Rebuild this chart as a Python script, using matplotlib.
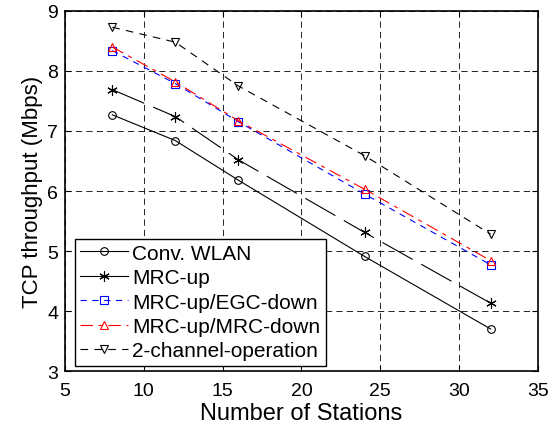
import matplotlib
matplotlib.use("Agg")
import matplotlib.pyplot as plt
from matplotlib.lines import Line2D

plt.rcParams["font.family"] = ["Liberation Sans", "DejaVu Sans"]
plt.rcParams["lines.scale_dashes"] = False

stations = [8, 12, 16, 24, 32]
conv_wlan = [7.27, 6.84, 6.18, 4.91, 3.70]
mrc_up = [7.69, 7.24, 6.52, 5.31, 4.13]
mrc_egc = [8.34, 7.79, 7.155, 5.95, 4.77]
mrc_mrc = [8.40, 7.82, 7.17, 6.03, 4.84]
two_channel = [8.73, 8.48, 7.75, 6.59, 5.28]

labels = ["Conv. WLAN", "MRC-up", "MRC-up/EGC-down", "MRC-up/MRC-down",
          "2-channel-operation"]

fig = plt.figure(figsize=(5.58, 4.27), dpi=100)
ax = fig.add_axes([0.1165, 0.1288, 0.8475, 0.8431])

lw = 0.8
ms = 5.5
star = (6, 2, 0)  # matlab-like asterisk
ax.plot(stations, conv_wlan, color="black", lw=lw, marker="o", ms=ms,
        mfc="none", mew=0.8)
ax.plot(stations, mrc_up, color="black", lw=lw, marker=star, ms=ms + 2,
        mfc="none", mew=0.8, dashes=(25, 7))
ax.plot(stations, mrc_egc, color="blue", lw=lw, marker="s", ms=ms,
        mfc="none", mew=0.8, dashes=(4.5, 4))
ax.plot(stations, mrc_mrc, color="red", lw=lw, marker="^", ms=ms + 0.5,
        mfc="none", mew=0.8, dashes=(9, 4, 3, 4))
ax.plot(stations, two_channel, color="black", lw=lw, marker="v", ms=ms + 0.5,
        mfc="none", mew=0.8, dashes=(5.5, 4.5))

ax.set_xlim(5, 35)
ax.set_ylim(3, 9)
ax.set_xticks(range(5, 36, 5))
ax.set_yticks(range(3, 10))
ax.grid(True, color="black", linestyle=(0, (4.5, 3)), linewidth=0.6)
ax.tick_params(direction="in", top=True, right=True, length=4, width=0.8,
               labelsize=14, pad=5)
ax.tick_params(axis="x", pad=8)
for s in ax.spines.values():
    s.set_linewidth(1.2)

ax.set_xlabel("Number of Stations", fontsize=17, labelpad=2)
ax.set_ylabel("TCP throughput (Mbps)", fontsize=16, labelpad=3)

# legend handles: MRC-up drawn solid in the legend sample
handles = [
    Line2D([], [], color="black", lw=lw, marker="o", ms=ms, mfc="none", mew=0.8),
    Line2D([], [], color="black", lw=lw, marker=star, ms=ms + 2, mfc="none", mew=0.8),
    Line2D([], [], color="blue", lw=lw, marker="s", ms=ms, mfc="none", mew=0.8,
           dashes=(4.5, 4)),
    Line2D([], [], color="red", lw=lw, marker="^", ms=ms + 0.5, mfc="none", mew=0.8,
           dashes=(9, 4, 3, 4)),
    Line2D([], [], color="black", lw=lw, marker="v", ms=ms + 0.5, mfc="none", mew=0.8,
           dashes=(5.5, 4.5)),
]
leg = ax.legend(handles, labels, loc="lower left", bbox_to_anchor=(0.021, 0.015),
                fontsize=15, fancybox=False, framealpha=1, edgecolor="black",
                handlelength=2.3, handletextpad=0.2, labelspacing=0.26,
                borderpad=0.25, borderaxespad=0.0)
leg.get_frame().set_linewidth(1.0)

fig.savefig("out.png", dpi=100)
